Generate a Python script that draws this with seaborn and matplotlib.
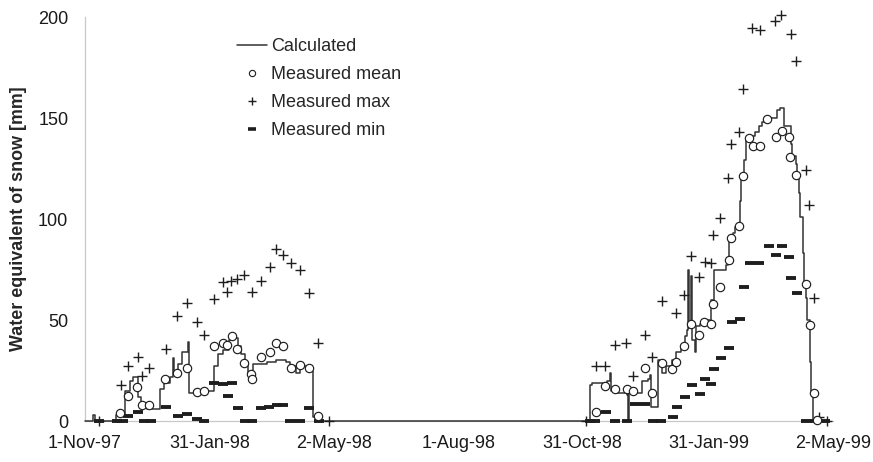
import numpy as np
import pandas as pd
import matplotlib
matplotlib.use("Agg")
import matplotlib.pyplot as plt
from matplotlib.lines import Line2D
import seaborn as sns

# Day numbers are counted from the first day of the record (1 Nov 1997)
START = "1997-11-01"

# Modelled snow water equivalent [mm], breakpoints of the daily step series
calc_day = [0, 6, 7, 23, 29, 33, 35, 39, 41, 45, 55, 58, 62, 64, 65, 68, 71, 75, 76,
            80, 84, 88, 94, 97, 101, 105, 107, 110, 112, 114, 117, 119, 121, 123, 129,
            133, 140, 147, 150, 154, 157, 162, 166, 167, 169,
            368, 369, 371, 382, 384, 385, 389, 396, 397, 398, 405, 407, 412, 413, 414,
            419, 422, 425, 429, 432, 436, 439, 440, 441, 442, 443, 444, 446, 447, 450,
            452, 458, 460, 469, 470, 471, 474, 475, 478, 479, 480, 482, 483, 487, 490,
            493, 495, 498, 506, 508, 511, 516, 517, 520, 521, 522, 523, 525, 526, 527,
            528, 530, 531, 532, 540]
calc_swe = [0, 3, 0, 3, 15, 20, 22, 12, 9, 6, 16, 19, 22, 31, 25, 28, 34, 39, 14,
            15, 14, 15, 27, 33, 35, 40, 42, 41, 37, 33, 29, 24, 21, 28, 28,
            29, 30, 29, 27, 24, 27, 26, 25, 2, 0,
            0, 18, 19, 20, 24, 15, 14, 13, 0, 14, 14, 20, 21, 23, 7,
            30, 24, 27, 30, 34, 37, 42, 45, 75, 46, 72, 40, 34, 47, 48,
            50, 60, 75, 77, 80, 91, 93, 96, 98, 109, 121, 129, 139, 141, 143,
            146, 148, 150, 154, 155, 146, 137, 131, 127, 121, 113, 101, 83, 68, 61,
            50, 29, 14, 0, 0]

# Snow survey: mean of the measured points
mean_day = [25.6, 31.7, 38.3, 41.9, 47, 58.5, 67.5, 74.8, 81.6, 87, 94.5, 100.6,
            103.6, 107.2, 111.3, 116.5, 121.5, 122.3, 128.4, 135.2, 139.6, 144.5,
            150.3, 157.2, 164, 170.6,
            373.5, 380.6, 387.4, 396, 400.8, 409.4, 414.3, 422.3, 429.6, 432, 438.1,
            443.5, 449.1, 452.7, 457.6, 459.3, 464.7, 470.8, 472.7, 478.1, 481.5,
            485.6, 488.5, 493.4, 499, 505.1, 509.7, 514.6, 515.9, 520.2, 527, 530,
            533.2, 535.5]
mean_swe = [3.8, 12.5, 16.7, 7.9, 7.9, 20.6, 23.9, 26.1, 14.5, 15, 37.3, 38.8,
            37.6, 42.1, 35.6, 28.9, 23.3, 20.6, 31.5, 34, 38.8, 37.3,
            26.1, 27.7, 26.1, 2.5,
            4.6, 17.3, 15.8, 15.8, 14.9, 26.4, 13.7, 28.9, 25.7, 29, 37.3,
            48, 42.6, 48.9, 48, 57.9, 66.5, 79.7, 90.4, 96.6, 121.3,
            140, 136.3, 136.3, 149.5, 140.7, 143.7, 140.4, 130.5, 121.9, 67.7, 47.5,
            13.7, 0.5]

# Snow survey: maximum of the measured points
max_day = [10, 26, 31.7, 38.5, 41.9, 47, 59.2, 67.5, 74.8, 81.6, 87, 94.5, 100.6,
           104, 106.5, 110.9, 116.5, 121.8, 128.4, 135.2, 139.6, 144.5, 150.3, 157.2,
           164, 170.6, 178.6,
           366.7, 373.5, 380.1, 387.4, 395.5, 400.8, 409.4, 414.3, 422.3, 432, 437.9,
           443.5, 449.1, 453.2, 458.1, 459.3, 464.7, 470.3, 472.7, 478.1, 481.2,
           487.8, 493.4, 504.9, 509.3, 516.1, 520.2, 527, 529.5, 533.2, 536.6, 542.3]
max_swe = [0, 17.8, 27.4, 31.5, 22.3, 26.4, 35.6, 52.1, 58.6, 48.9, 42.4, 60.2, 69,
           64, 69.5, 70.3, 72.1, 63.7, 69.5, 76.1, 85.3, 82, 78, 74.8,
           63.2, 38.8, 0,
           0, 27.4, 27.4, 37.6, 38.5, 22.3, 42.6, 31.8, 59.4, 53.3, 62.4,
           81.7, 71.1, 78.9, 78.4, 92.1, 100.7, 120.1, 137, 143.2, 164.4,
           194.4, 193.6, 198.2, 201, 191.6, 178.2, 124.3, 106.9, 60.7, 2.1, 0]

# Snow survey: minimum of the measured points
min_day = [10, 23.5, 27.5, 31.7, 39, 43, 48.5, 59.2, 68.2, 74.8, 81.6, 87, 94.5,
           100.6, 104.2, 107.2, 112.1, 117, 122, 128.7, 134.7, 140.1, 145, 150, 157,
           164, 171.3,
           369, 373, 380.8, 387.4, 396, 402, 409.4, 415, 421, 430.1, 432.6, 438.6,
           444.2, 449.6, 453.7, 458.1, 459.8, 464.9, 470.8, 473.2, 478.8, 482,
           486.6, 492.9, 500, 505.6, 509.7, 514.8, 516.5, 520.7, 527, 534, 541]
min_swe = [0, 0, 0, 2.6, 4.6, 0, 0, 7.1, 2.6, 3.5, 1.2, 0, 19,
           18.2, 12.4, 19, 6.6, 0, 0, 6.6, 7.1, 7.9, 7.9, 0, 0,
           6.6, 0,
           0, 0, 4.6, 0, 0, 8.2, 8.2, 0, 0, 2.1, 6.8, 12,
           17.8, 13.4, 20.6, 18.3, 25.7, 31, 36.3, 49.2, 50.3, 66.5,
           78.4, 78.4, 86.8, 82.2, 86.8, 81, 70.6, 63.5, 0, 0, 0]

tick_dates = ["1997-11-01", "1998-01-31", "1998-05-02", "1998-08-01",
              "1998-10-31", "1999-01-31", "1999-05-02"]
tick_labels = ["1-Nov-97", "31-Jan-98", "2-May-98", "1-Aug-98",
               "31-Oct-98", "31-Jan-99", "2-May-99"]
y_ticks = [0, 50, 100, 150, 200]


def to_dates(days):
    return pd.Timestamp(START) + pd.to_timedelta(np.asarray(days, dtype=float), unit="D")


calc_df = pd.DataFrame({"date": to_dates(calc_day), "swe": calc_swe})
mean_df = pd.DataFrame({"date": to_dates(mean_day), "swe": mean_swe})
max_df = pd.DataFrame({"date": to_dates(max_day), "swe": max_swe})
min_df = pd.DataFrame({"date": to_dates(min_day), "swe": min_swe})

sns.set_style("white")
plt.rcParams["font.family"] = ["Liberation Sans", "DejaVu Sans"]

INK = "#1e1e1e"
LINE = "#333333"
AXIS = "#c8c8c8"

fig = plt.figure(figsize=(8.73, 4.62), dpi=100)
ax = fig.add_axes([0.0974, 0.0887, 0.8568, 0.8745])

sns.lineplot(data=calc_df, x="date", y="swe", ax=ax, color=LINE, linewidth=1.1,
             drawstyle="steps-post", sort=False, estimator=None, zorder=3,
             clip_on=False)
sns.scatterplot(data=min_df, x="date", y="swe", ax=ax, marker="_", s=55,
                color=INK, linewidth=2.8, zorder=4, clip_on=False)
sns.scatterplot(data=max_df, x="date", y="swe", ax=ax, marker="+", s=50,
                color=INK, linewidth=1.0, zorder=4, clip_on=False)
sns.scatterplot(data=mean_df, x="date", y="swe", ax=ax, marker="o", s=36,
                facecolor="white", edgecolor=INK, linewidth=0.85, zorder=5,
                clip_on=False)

ax.set_xlim(pd.Timestamp(tick_dates[0]), pd.Timestamp(tick_dates[-1]))
ax.set_ylim(0, 200)
ax.set_xticks(pd.to_datetime(tick_dates))
ax.set_xticklabels(tick_labels)
ax.set_yticks(y_ticks)
ax.set_xlabel("")
ax.set_ylabel("Water equivalent of snow [mm]", fontsize=12.9, fontweight="bold",
              labelpad=8)

for side in ("top", "right"):
    ax.spines[side].set_visible(False)
for side in ("left", "bottom"):
    ax.spines[side].set_color(AXIS)
    ax.spines[side].set_linewidth(0.9)
ax.tick_params(axis="both", which="both", direction="out", length=4, width=0.8,
               color=AXIS, labelsize=13, labelcolor="#1a1a1a")
ax.tick_params(axis="y", pad=8)
ax.tick_params(axis="x", pad=6)

handles = [
    Line2D([], [], color=LINE, linewidth=1.1),
    Line2D([], [], linestyle="", marker="o", markersize=4.5, markerfacecolor="white",
           markeredgecolor=INK, markeredgewidth=0.8),
    Line2D([], [], linestyle="", marker="+", markersize=6, color=INK,
           markeredgewidth=1.0),
    Line2D([], [], linestyle="", marker="_", markersize=6, color=INK,
           markeredgewidth=2.6),
]
labels = ["Calculated", "Measured mean", "Measured max", "Measured min"]
fig.legend(handles, labels, loc="upper left", bbox_to_anchor=(0.2715, 0.918),
           bbox_transform=fig.transFigure, frameon=False, fontsize=13,
           handlelength=1.65, handletextpad=0.25, labelspacing=0.62, borderpad=0,
           borderaxespad=0)

fig.savefig("out.png", dpi=100)
